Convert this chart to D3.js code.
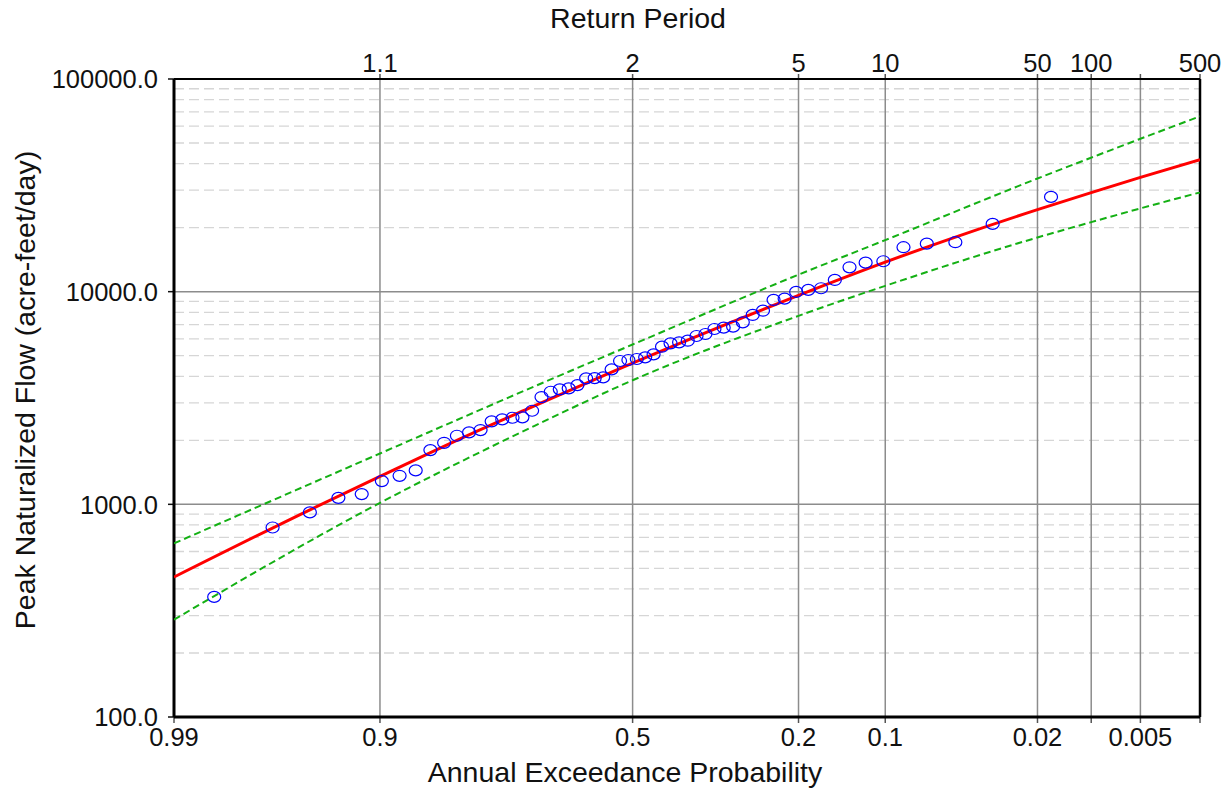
<!DOCTYPE html>
<html>
<head>
<meta charset="utf-8">
<script src="https://cdn.jsdelivr.net/npm/d3@7/dist/d3.min.js"></script>
<style>
  html, body { margin: 0; padding: 0; background: #fff; }
  svg { display: block; font-family: "Liberation Sans", Arial, sans-serif; }
</style>
</head>
<body>
<svg id="chart" width="1230" height="794"></svg>
<script>
// Observed annual peaks, in plotting order (largest exceedance probability first)
const obsProb = [
  0.9831, 0.9661, 0.9492, 0.9322, 0.9153, 0.8983, 0.8814, 0.8644, 0.8475, 0.8305,
  0.8136, 0.7966, 0.7797, 0.7627, 0.7458, 0.7288, 0.7119, 0.6949, 0.6780, 0.6610,
  0.6441, 0.6271, 0.6102, 0.5932, 0.5763, 0.5593, 0.5424, 0.5254, 0.5085, 0.4915,
  0.4746, 0.4576, 0.4407, 0.4237, 0.4068, 0.3898, 0.3729, 0.3559, 0.3390, 0.3220,
  0.3051, 0.2881, 0.2712, 0.2542, 0.2373, 0.2203, 0.2034, 0.1864, 0.1695, 0.1525,
  0.1356, 0.1186, 0.1017, 0.0847, 0.0678, 0.0508, 0.0339, 0.0169
];
const obsFlow = [
  367, 778, 916, 1073, 1117, 1286, 1362, 1444, 1799, 1947,
  2101, 2180, 2235, 2456, 2510, 2554, 2565, 2754, 3195, 3383,
  3472, 3510, 3638, 3913, 3920, 3955, 4313, 4720, 4771, 4823,
  4913, 5075, 5510, 5717, 5780, 5881, 6188, 6323, 6676, 6771,
  6845, 7178, 7770, 8138, 9140, 9270, 9970, 10190, 10375, 11350,
  13020, 13690, 13900, 16180, 16820, 17080, 20830, 27900
];

// Fitted frequency curve
const fitProb = [0.99, 0.95, 0.9, 0.8, 0.7, 0.5, 0.3, 0.2, 0.1, 0.05, 0.02, 0.01, 0.005, 0.002];
const fitFlow = [455, 935, 1352, 2099, 2831, 4618, 7335, 9610, 13770, 18150, 24310, 29240, 34450, 41720];

// Confidence limits
const ciProb  = [0.99, 0.9, 0.7, 0.5, 0.2, 0.1, 0.02, 0.01, 0.005, 0.002];
const ciUpper = [655, 1734, 3500, 5644, 12020, 17480, 34050, 42660, 52340, 66760];
const ciLower = [287, 1016, 2275, 3831, 7699, 10650, 17980, 21230, 24630, 29310];

// Axis ticks
const probTicks   = [0.99, 0.9, 0.5, 0.2, 0.1, 0.02, 0.01, 0.005, 0.002];
const probLabels  = ["0.99", "0.9", "0.5", "0.2", "0.1", "0.02", "", "0.005", ""];
const periodTicks  = [0.9, 0.5, 0.2, 0.1, 0.02, 0.01, 0.005, 0.002];
const periodLabels = ["1.1", "2", "5", "10", "50", "100", "", "500"];
const flowTicks  = [100, 1000, 10000, 100000];
const flowLabels = ["100.0", "1000.0", "10000.0", "100000.0"];

// Inverse standard normal CDF (Acklam's rational approximation)
function normInv(p) {
  const a = [-3.969683028665376e+01, 2.209460984245205e+02, -2.759285104469687e+02,
             1.383577518672690e+02, -3.066479806614716e+01, 2.506628277459239e+00];
  const b = [-5.447609879822406e+01, 1.615858368580409e+02, -1.556989798598866e+02,
             6.680131188771972e+01, -1.328068155288572e+01];
  const c = [-7.784894002430293e-03, -3.223964580411365e-01, -2.400758277161838e+00,
             -2.549732539343734e+00, 4.374664141464968e+00, 2.938163982698783e+00];
  const d = [7.784695709041462e-03, 3.224671290700398e-01, 2.445134137142996e+00,
             3.754408661907416e+00];
  const pl = 0.02425, ph = 1 - pl;
  let q, r;
  if (p < pl) {
    q = Math.sqrt(-2 * Math.log(p));
    return (((((c[0]*q+c[1])*q+c[2])*q+c[3])*q+c[4])*q+c[5]) /
           ((((d[0]*q+d[1])*q+d[2])*q+d[3])*q+1);
  } else if (p <= ph) {
    q = p - 0.5; r = q * q;
    return (((((a[0]*r+a[1])*r+a[2])*r+a[3])*r+a[4])*r+a[5])*q /
           (((((b[0]*r+b[1])*r+b[2])*r+b[3])*r+b[4])*r+1);
  } else {
    q = Math.sqrt(-2 * Math.log(1 - p));
    return -(((((c[0]*q+c[1])*q+c[2])*q+c[3])*q+c[4])*q+c[5]) /
            ((((d[0]*q+d[1])*q+d[2])*q+d[3])*q+1);
  }
}

const plot = { left: 174, right: 1200, top: 79, bottom: 717 };

// Exceedance probability on a normal-probability axis
const zScale = d3.scaleLinear()
  .domain([normInv(1 - 0.99), normInv(1 - 0.002)])
  .range([plot.left, plot.right]);
const x = p => zScale(normInv(1 - p));
const y = d3.scaleLog().domain([100, 100000]).range([plot.bottom, plot.top]);

const svg = d3.select("#chart");
const tickFont = 25.5;
const titleFont = 28.5;

// Minor log grid (dashed)
const minor = [];
[100, 1000, 10000].forEach(dec => { for (let k = 2; k <= 9; k++) minor.push(dec * k); });
svg.append("g").selectAll("line").data(minor).join("line")
  .attr("x1", plot.left).attr("x2", plot.right)
  .attr("y1", d => y(d)).attr("y2", d => y(d))
  .attr("stroke", "#d6d6d6").attr("stroke-width", 1.3).attr("stroke-dasharray", "10,5");

// Major horizontal grid
svg.append("g").selectAll("line").data(flowTicks.slice(1, 3)).join("line")
  .attr("x1", plot.left).attr("x2", plot.right)
  .attr("y1", d => y(d)).attr("y2", d => y(d))
  .attr("stroke", "#8c8c8c").attr("stroke-width", 1.5);

// Vertical probability grid
svg.append("g").selectAll("line").data(probTicks.slice(1, -1)).join("line")
  .attr("x1", d => x(d)).attr("x2", d => x(d))
  .attr("y1", plot.top).attr("y2", plot.bottom)
  .attr("stroke", "#8c8c8c").attr("stroke-width", 1.5);

// Bottom axis: annual exceedance probability
const bottomAxis = svg.append("g").attr("transform", `translate(0,${plot.bottom})`);
bottomAxis.selectAll("line").data(probTicks).join("line")
  .attr("x1", d => x(d)).attr("x2", d => x(d)).attr("y1", 0).attr("y2", 6)
  .attr("stroke", "#555").attr("stroke-width", 1.5);
bottomAxis.selectAll("text").data(probTicks.map((p, i) => [p, probLabels[i]]).filter(d => d[1]))
  .join("text")
  .attr("x", d => x(d[0])).attr("y", 29)
  .attr("text-anchor", "middle").attr("font-size", tickFont).attr("fill", "#111")
  .text(d => d[1]);

// Top axis: return period
const topAxis = svg.append("g").attr("transform", `translate(0,${plot.top})`);
topAxis.selectAll("line").data(periodTicks).join("line")
  .attr("x1", d => x(d)).attr("x2", d => x(d)).attr("y1", 0).attr("y2", -5)
  .attr("stroke", "#555").attr("stroke-width", 1.5);
topAxis.selectAll("text").data(periodTicks.map((p, i) => [p, periodLabels[i]]).filter(d => d[1]))
  .join("text")
  .attr("x", d => x(d[0])).attr("y", -7)
  .attr("text-anchor", "middle").attr("font-size", tickFont).attr("fill", "#111")
  .text(d => d[1]);

// Left axis: flow
const leftAxis = svg.append("g").attr("transform", `translate(${plot.left},0)`);
leftAxis.selectAll("line").data(flowTicks).join("line")
  .attr("x1", -6).attr("x2", 0).attr("y1", d => y(d)).attr("y2", d => y(d))
  .attr("stroke", "#111").attr("stroke-width", 1.5);
leftAxis.selectAll("text").data(flowTicks.map((v, i) => [v, flowLabels[i]]))
  .join("text")
  .attr("x", -16).attr("y", d => y(d[0]))
  .attr("dy", "0.36em")
  .attr("text-anchor", "end").attr("font-size", tickFont).attr("fill", "#111")
  .text(d => d[1]);

// Frame
svg.append("line").attr("x1", plot.left).attr("x2", plot.right).attr("y1", plot.top).attr("y2", plot.top)
  .attr("stroke", "#000").attr("stroke-width", 2);
svg.append("line").attr("x1", plot.right).attr("x2", plot.right).attr("y1", plot.top).attr("y2", plot.bottom)
  .attr("stroke", "#000").attr("stroke-width", 2.5);
svg.append("line").attr("x1", plot.left).attr("x2", plot.left).attr("y1", plot.top).attr("y2", plot.bottom)
  .attr("stroke", "#000").attr("stroke-width", 3);
svg.append("line").attr("x1", plot.left).attr("x2", plot.right).attr("y1", plot.bottom).attr("y2", plot.bottom)
  .attr("stroke", "#000").attr("stroke-width", 3);

// Curves
svg.append("clipPath").attr("id", "plotClip").append("rect")
  .attr("x", plot.left).attr("y", plot.top)
  .attr("width", plot.right - plot.left).attr("height", plot.bottom - plot.top);
const curves = svg.append("g").attr("clip-path", "url(#plotClip)");
const line = d3.line().x(d => x(d[0])).y(d => y(d[1])).curve(d3.curveMonotoneX);

curves.append("path").datum(ciProb.map((p, i) => [p, ciUpper[i]]))
  .attr("d", line).attr("fill", "none")
  .attr("stroke", "#14b014").attr("stroke-width", 2).attr("stroke-dasharray", "7,4");
curves.append("path").datum(ciProb.map((p, i) => [p, ciLower[i]]))
  .attr("d", line).attr("fill", "none")
  .attr("stroke", "#14b014").attr("stroke-width", 2).attr("stroke-dasharray", "7,4");
curves.append("path").datum(fitProb.map((p, i) => [p, fitFlow[i]]))
  .attr("d", line).attr("fill", "none")
  .attr("stroke", "#ff0000").attr("stroke-width", 3);

// Observed peaks
curves.append("g").selectAll("ellipse").data(obsProb.map((p, i) => [p, obsFlow[i]])).join("ellipse")
  .attr("cx", d => x(d[0])).attr("cy", d => y(d[1]))
  .attr("rx", 6.5).attr("ry", 5.5)
  .attr("fill", "none").attr("stroke", "#0000ff").attr("stroke-width", 1.2);

// Axis titles
svg.append("text").attr("x", 638).attr("y", 28)
  .attr("text-anchor", "middle").attr("font-size", titleFont).attr("fill", "#111")
  .text("Return Period");
svg.append("text").attr("x", 625).attr("y", 782)
  .attr("text-anchor", "middle").attr("font-size", titleFont).attr("fill", "#111")
  .text("Annual Exceedance Probability");
svg.append("text")
  .attr("transform", "translate(35,390) rotate(-90)")
  .attr("text-anchor", "middle").attr("font-size", titleFont).attr("fill", "#111")
  .text("Peak Naturalized Flow (acre-feet/day)");
</script>
</body>
</html>
